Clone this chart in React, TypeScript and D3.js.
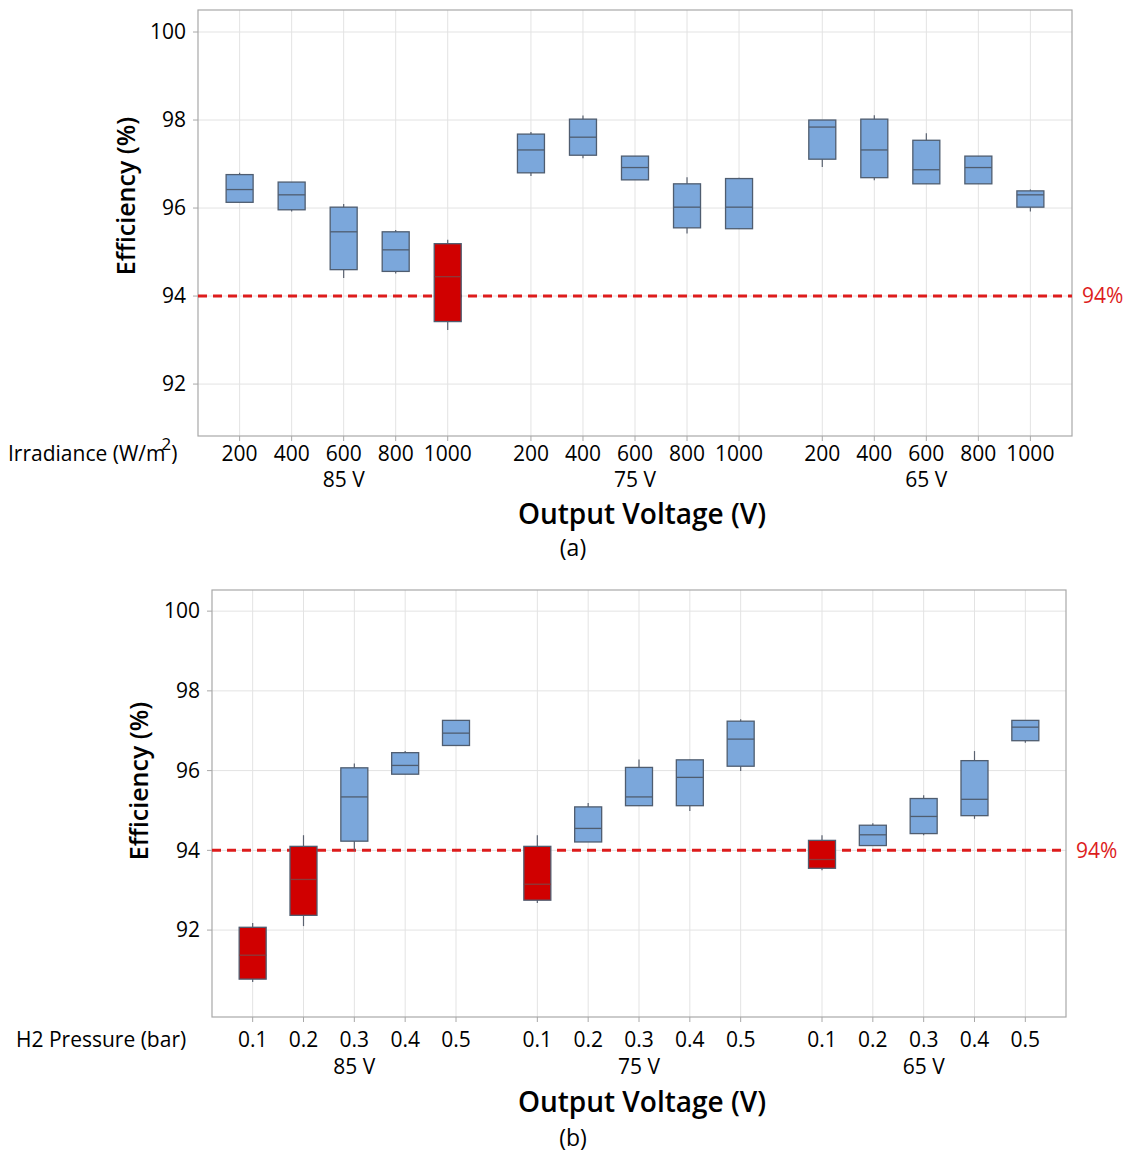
import React, { useRef, useEffect } from 'react';
import * as d3 from 'd3';

// Boxplot stats per box: [whiskerLow, q1, median, q3, whiskerHigh]
const voltageGroups = ['85 V', '75 V', '65 V'];
const irradianceLevels = ['200', '400', '600', '800', '1000'];
const pressureLevels = ['0.1', '0.2', '0.3', '0.4', '0.5'];
const efficiencyTicks = [92, 94, 96, 98, 100];
const thresholdValue = 94;

const irradianceStats85 = [
  [96.13, 96.13, 96.42, 96.76, 96.8],
  [95.92, 95.96, 96.3, 96.59, 96.59],
  [94.41, 94.6, 95.46, 96.02, 96.09],
  [94.51, 94.56, 95.05, 95.46, 95.5],
  [93.23, 93.42, 94.44, 95.19, 95.28],
];
const irradianceStats75 = [
  [96.73, 96.8, 97.32, 97.68, 97.73],
  [97.13, 97.2, 97.61, 98.02, 98.1],
  [96.64, 96.64, 96.92, 97.18, 97.18],
  [95.42, 95.55, 96.02, 96.55, 96.7],
  [95.53, 95.53, 96.02, 96.67, 96.69],
];
const irradianceStats65 = [
  [96.93, 97.11, 97.84, 98.0, 98.0],
  [96.63, 96.69, 97.32, 98.02, 98.11],
  [96.55, 96.55, 96.87, 97.54, 97.7],
  [96.55, 96.55, 96.92, 97.18, 97.18],
  [95.92, 96.02, 96.3, 96.39, 96.42],
];

const pressureStats85 = [
  [90.7, 90.77, 91.37, 92.07, 92.18],
  [92.1, 92.37, 93.27, 94.1, 94.38],
  [93.99, 94.23, 95.34, 96.07, 96.18],
  [95.91, 95.91, 96.13, 96.45, 96.49],
  [96.63, 96.63, 96.94, 97.26, 97.26],
];
const pressureStats75 = [
  [92.68, 92.75, 93.15, 94.1, 94.38],
  [94.21, 94.21, 94.55, 95.09, 95.19],
  [95.12, 95.12, 95.34, 96.08, 96.28],
  [94.99, 95.12, 95.83, 96.27, 96.27],
  [95.99, 96.11, 96.79, 97.24, 97.29],
];
const pressureStats65 = [
  [93.5, 93.55, 93.77, 94.25, 94.38],
  [94.12, 94.12, 94.39, 94.63, 94.68],
  [94.38, 94.42, 94.85, 95.3, 95.38],
  [94.79, 94.87, 95.28, 96.25, 96.49],
  [96.7, 96.75, 97.09, 97.26, 97.26],
];

const BLUE_FILL = '#7ba7db';
const RED_FILL = '#d00000';
const BOX_STROKE = '#4f5d70';
const GRID = '#e3e3e3';
const FRAME = '#a8a8a8';
const THRESHOLD = '#dd1c1c';
const FONT = '"Open Sans", "Noto Sans", sans-serif';
const LABEL_SIZE = '21px';

interface PanelSpec {
  frame: { left: number; top: number; right: number; bottom: number };
  yDomain: [number, number];
  levels: string[];
  stats: number[][][];
  factorLabel: string;
  factorSup?: string;
  factorX: number;
  tickY: number;
  groupY: number;
  titleY: number;
  caption: string;
  captionY: number;
  yLabelX: number;
  yLabelY: number;
  yTickRight: number;
  boxWidth: number;
}

const panels: PanelSpec[] = [
  {
    frame: { left: 198, top: 10, right: 1072, bottom: 436 },
    yDomain: [90.82, 100.5],
    levels: irradianceLevels,
    stats: [irradianceStats85, irradianceStats75, irradianceStats65],
    factorLabel: 'Irradiance (W/m',
    factorSup: '2',
    factorX: 8,
    tickY: 461,
    groupY: 487,
    titleY: 524,
    caption: '(a)',
    captionY: 556,
    yLabelX: 135,
    yLabelY: 196,
    yTickRight: 186,
    boxWidth: 27,
  },
  {
    frame: { left: 212, top: 590, right: 1066, bottom: 1017 },
    yDomain: [89.82, 100.53],
    levels: pressureLevels,
    stats: [pressureStats85, pressureStats75, pressureStats65],
    factorLabel: 'H2 Pressure (bar)',
    factorX: 16,
    tickY: 1047,
    groupY: 1074,
    titleY: 1112,
    caption: '(b)',
    captionY: 1146,
    yLabelX: 148,
    yLabelY: 781,
    yTickRight: 200,
    boxWidth: 27,
  },
];

const GROUP_STEP = 5.6; // slot units between group starts

function drawPanel(svg: d3.Selection<SVGSVGElement, unknown, null, undefined>, p: PanelSpec) {
  const { frame } = p;
  const x = d3.scaleLinear()
    .domain([-0.8, (voltageGroups.length - 1) * GROUP_STEP + p.levels.length - 1 + 0.8])
    .range([frame.left, frame.right]);
  const y = d3.scaleLinear().domain(p.yDomain).range([frame.bottom, frame.top]);
  const g = svg.append('g');

  const slots: { pos: number; level: string; group: number; s: number[] }[] = [];
  voltageGroups.forEach((_, gi) => {
    p.levels.forEach((lv, li) => {
      slots.push({ pos: gi * GROUP_STEP + li, level: lv, group: gi, s: p.stats[gi][li] });
    });
  });

  // grid
  g.selectAll('.hgrid').data(efficiencyTicks).enter().append('line')
    .attr('x1', frame.left).attr('x2', frame.right)
    .attr('y1', d => y(d)).attr('y2', d => y(d))
    .attr('stroke', GRID).attr('stroke-width', 1);
  g.selectAll('.vgrid').data(slots).enter().append('line')
    .attr('x1', d => x(d.pos)).attr('x2', d => x(d.pos))
    .attr('y1', frame.top).attr('y2', frame.bottom)
    .attr('stroke', GRID).attr('stroke-width', 1);

  // frame
  g.append('rect')
    .attr('x', frame.left).attr('y', frame.top)
    .attr('width', frame.right - frame.left).attr('height', frame.bottom - frame.top)
    .attr('fill', 'none').attr('stroke', FRAME).attr('stroke-width', 1.2);

  // y ticks
  g.selectAll('.ytick').data(efficiencyTicks).enter().append('line')
    .attr('x1', frame.left - 5).attr('x2', frame.left)
    .attr('y1', d => y(d)).attr('y2', d => y(d))
    .attr('stroke', FRAME);
  g.selectAll('.ylab').data(efficiencyTicks).enter().append('text')
    .attr('x', p.yTickRight).attr('y', d => y(d)).attr('dy', '0.35em')
    .attr('text-anchor', 'end')
    .style('font-size', LABEL_SIZE).style('font-weight', '500').style('font-family', FONT).style('fill', '#000')
    .text(d => d);

  // x ticks
  g.selectAll('.xtick').data(slots).enter().append('line')
    .attr('x1', d => x(d.pos)).attr('x2', d => x(d.pos))
    .attr('y1', frame.bottom).attr('y2', frame.bottom + 5)
    .attr('stroke', FRAME);
  g.selectAll('.xlab').data(slots).enter().append('text')
    .attr('x', d => x(d.pos)).attr('y', p.tickY)
    .attr('text-anchor', 'middle')
    .style('font-size', LABEL_SIZE).style('font-weight', '500').style('font-family', FONT).style('fill', '#000')
    .text(d => d.level);
  g.selectAll('.grouplab').data(voltageGroups).enter().append('text')
    .attr('x', (_, gi) => x(gi * GROUP_STEP + (p.levels.length - 1) / 2)).attr('y', p.groupY)
    .attr('text-anchor', 'middle')
    .style('font-size', LABEL_SIZE).style('font-weight', '500').style('font-family', FONT).style('fill', '#000')
    .text(d => d);

  // factor label
  const fl = g.append('text')
    .attr('x', p.factorX).attr('y', p.tickY)
    .style('font-size', LABEL_SIZE).style('font-weight', '500').style('font-family', FONT).style('fill', '#000')
    .text(p.factorLabel);
  if (p.factorSup) {
    fl.append('tspan').attr('dx', -4).attr('dy', -11).style('font-size', '17px').text(p.factorSup);
    fl.append('tspan').attr('dy', 11).text(')');
  }

  // threshold line
  g.append('line')
    .attr('x1', frame.left).attr('x2', frame.right)
    .attr('y1', y(thresholdValue)).attr('y2', y(thresholdValue))
    .attr('stroke', THRESHOLD).attr('stroke-width', 3)
    .attr('stroke-dasharray', '9,6');
  g.append('text')
    .attr('x', frame.right + 10).attr('y', y(thresholdValue)).attr('dy', '0.35em')
    .style('font-size', LABEL_SIZE).style('font-weight', '500').style('font-family', FONT).style('fill', THRESHOLD)
    .text(`${thresholdValue}%`);

  // whiskers
  g.selectAll('.whisker').data(slots).enter().append('line')
    .attr('x1', d => x(d.pos)).attr('x2', d => x(d.pos))
    .attr('y1', d => y(d.s[0])).attr('y2', d => y(d.s[4]))
    .attr('stroke', '#5a6270').attr('stroke-width', 1.2);

  // boxes
  const bw = p.boxWidth;
  g.selectAll('.box').data(slots).enter().append('rect')
    .attr('x', d => x(d.pos) - bw / 2).attr('width', bw)
    .attr('y', d => y(d.s[3])).attr('height', d => y(d.s[1]) - y(d.s[3]))
    .attr('fill', d => (d.s[1] < thresholdValue ? RED_FILL : BLUE_FILL))
    .attr('stroke', BOX_STROKE).attr('stroke-width', 1.3);
  g.selectAll('.median').data(slots).enter().append('line')
    .attr('x1', d => x(d.pos) - bw / 2).attr('x2', d => x(d.pos) + bw / 2)
    .attr('y1', d => y(d.s[2])).attr('y2', d => y(d.s[2]))
    .attr('stroke', d => (d.s[1] < thresholdValue ? '#8a3a3a' : BOX_STROKE)).attr('stroke-width', 1.3);

  // axis titles
  g.append('text')
    .attr('transform', `translate(${p.yLabelX},${p.yLabelY}) rotate(-90)`)
    .attr('text-anchor', 'middle')
    .style('font-size', '25px').style('font-weight', '600').style('font-family', FONT).style('fill', '#000')
    .text('Efficiency (%)');
  g.append('text')
    .attr('x', 642).attr('y', p.titleY)
    .attr('text-anchor', 'middle')
    .style('font-size', '28px').style('font-weight', '600').style('font-family', FONT).style('fill', '#000')
    .text('Output Voltage (V)');
  g.append('text')
    .attr('x', 573).attr('y', p.captionY)
    .attr('text-anchor', 'middle')
    .style('font-size', '23px').style('font-family', FONT).style('fill', '#000')
    .text(p.caption);
}

export default function App() {
  const svgRef = useRef<SVGSVGElement>(null);

  useEffect(() => {
    const svg = d3.select(svgRef.current as SVGSVGElement);
    svg.selectAll('*').remove();
    svg.append('rect').attr('width', 1132).attr('height', 1153).attr('fill', '#fff');
    panels.forEach(p => drawPanel(svg, p));
  }, []);

  return (
    <svg
      ref={svgRef}
      width={1132}
      height={1153}
      style={{ position: 'absolute', left: 0, top: 0 }}
    />
  );
}
